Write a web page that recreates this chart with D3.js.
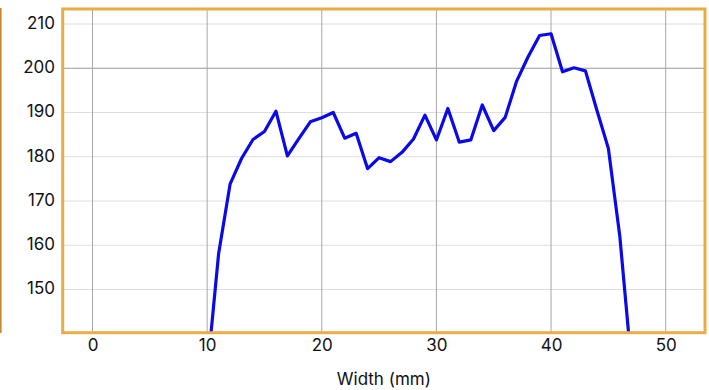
<!DOCTYPE html>
<html>
<head>
<meta charset="utf-8">
<script src="https://cdn.jsdelivr.net/npm/d3@7"></script>
<style>
  html, body { margin: 0; padding: 0; background: #fff; }
  svg { display: block; }
  text { font-family: Inter, "Liberation Sans", Arial, sans-serif; fill: #111; }
</style>
</head>
<body>
<svg id="chart" width="709" height="390"></svg>
<script>
// Thickness profile across the strip width
const widthMm = [10, 11, 12, 13, 14, 15, 16, 17, 18, 19, 20, 21, 22, 23, 24, 25, 26, 27, 28, 29,
                 30, 31, 32, 33, 34, 35, 36, 37, 38, 39, 40, 41, 42, 43, 44, 45, 46, 47];
const thickness = [131, 158.1, 173.8, 179.6, 183.9, 185.7, 190.3, 180.2, 184.1, 187.9, 188.8, 190.0,
                   184.2, 185.3, 177.3, 179.8, 178.9, 181.0, 184.0, 189.4, 183.8, 190.9, 183.3, 183.8,
                   191.7, 185.9, 188.9, 197.1, 202.6, 207.4, 207.8, 199.2, 200.1, 199.4, 190.5, 181.9,
                   162.0, 133.4];
const xTicks = [0, 10, 20, 30, 40, 50];
const yTicks = [150, 160, 170, 180, 190, 200, 210];
const xLabel = "Width (mm)";

const svg = d3.select("#chart");
const plot = { left: 62.7, top: 9, right: 705, bottom: 332.7 };

const x = d3.scaleLinear().domain([-2.6, 53.43]).range([plot.left, plot.right]);
const y = d3.scaleLinear().domain([140.24, 213.39]).range([plot.bottom, plot.top]);

// outer panel edge on the far left
svg.append("line")
  .attr("x1", 0.8).attr("x2", 0.8)
  .attr("y1", 8).attr("y2", 333)
  .attr("stroke", "#c98a2e").attr("stroke-width", 1.6);

// grid
const grid = svg.append("g");
grid.selectAll("line.h").data(yTicks).join("line")
  .attr("class", "h")
  .attr("x1", plot.left).attr("x2", plot.right)
  .attr("y1", d => y(d)).attr("y2", d => y(d))
  .attr("stroke", d => d === 200 ? "#9a9a9a" : "#dedede").attr("stroke-width", 1);
grid.selectAll("line.v").data(xTicks).join("line")
  .attr("class", "v")
  .attr("y1", plot.top).attr("y2", plot.bottom)
  .attr("x1", d => x(d)).attr("x2", d => x(d))
  .attr("stroke", "#a8a8a8").attr("stroke-width", 1);

// clip the profile to the plot frame
svg.append("clipPath").attr("id", "clip")
  .append("rect")
  .attr("x", plot.left).attr("y", plot.top)
  .attr("width", plot.right - plot.left).attr("height", plot.bottom - plot.top);

const line = d3.line()
  .x((d, i) => x(widthMm[i]))
  .y(d => y(d));

svg.append("path")
  .datum(thickness)
  .attr("clip-path", "url(#clip)")
  .attr("fill", "none")
  .attr("stroke", "#0a0ae8")
  .attr("stroke-width", 3.2)
  .attr("stroke-linejoin", "round")
  .attr("d", line);

// frame
svg.append("rect")
  .attr("x", plot.left).attr("y", plot.top)
  .attr("width", plot.right - plot.left).attr("height", plot.bottom - plot.top)
  .attr("fill", "none")
  .attr("stroke", "#eaac45").attr("stroke-width", 3);

// axes (labels only)
const yAxis = d3.axisLeft(y).tickValues(yTicks).tickSize(0).tickPadding(0);
const gy = svg.append("g").attr("transform", "translate(55,-1)").call(yAxis);
gy.select(".domain").remove();
gy.selectAll("text").attr("font-size", 17).attr("font-family", null).attr("fill", "#111");

const xAxis = d3.axisBottom(x).tickValues(xTicks).tickSize(0).tickPadding(0);
const gx = svg.append("g").attr("transform", "translate(0,339)").call(xAxis);
gx.select(".domain").remove();
gx.selectAll("text").attr("font-size", 17).attr("font-family", null).attr("fill", "#111");

svg.append("text")
  .attr("x", (plot.left + plot.right) / 2)
  .attr("y", 385)
  .attr("text-anchor", "middle")
  .attr("font-size", 17)
  .text(xLabel);
</script>
</body>
</html>
